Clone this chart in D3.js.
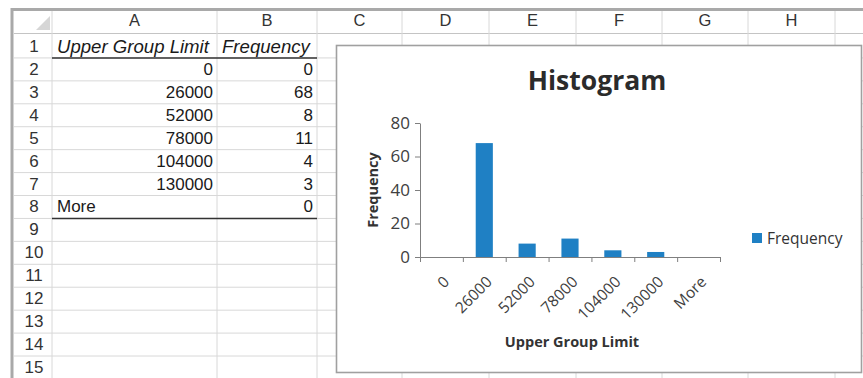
<!DOCTYPE html>
<html><head><meta charset="utf-8">
<script src="https://cdn.jsdelivr.net/npm/d3@7"></script>
<style>body{margin:0;background:#fff}svg{display:block}</style>
</head><body>
<svg id="c" width="863" height="378"></svg>
<script>
// ---- data ----
const categories = ["0","26000","52000","78000","104000","130000","More"];
const frequencies = [0,68,8,11,4,3,0];
const yTicks = [0,20,40,60,80];
const columnLetters = ["A","B","C","D","E","F","G","H"];
const rowNumbers = [1,2,3,4,5,6,7,8,9,10,11,12,13,14,15];
const tableHeaders = ["Upper Group Limit","Frequency"];
const chartTitle = "Histogram";
const xTitle = "Upper Group Limit";
const yTitle = "Frequency";
const legendLabel = "Frequency";

// ---- layout ----
const W = 863, H = 378;
const colEdges = [14,52,217,317,402,489,576,662,748,835,863];
const headerTop = 11, row1Top = 34, rowH = 22.93;
const rowTop = n => 35 + (n-1)*rowH;
const rowMid = n => rowTop(n) + rowH/2;
const cellFont = "'Liberation Sans', Arial, sans-serif";
const chartFont = "'Open Sans', 'Noto Sans', sans-serif";

const svg = d3.select("#c");
svg.append("rect").attr("width",W).attr("height",H).attr("fill","#fff");

// grid lines
const grid = svg.append("g");
grid.selectAll("line.h").data(rowNumbers).join("line")
  .attr("x1",colEdges[0]).attr("x2",W)
  .attr("y1",d=>rowTop(d)+rowH).attr("y2",d=>rowTop(d)+rowH)
  .attr("stroke","#d8d8d8").attr("stroke-width",1);
grid.append("line").attr("x1",colEdges[0]).attr("x2",W).attr("y1",row1Top-0.5).attr("y2",row1Top-0.5)
  .attr("stroke","#c4c4c4").attr("stroke-width",1.2);
grid.selectAll("line.v").data(colEdges.slice(1,-1)).join("line")
  .attr("x1",d=>d).attr("x2",d=>d).attr("y1",headerTop).attr("y2",H)
  .attr("stroke","#d8d8d8").attr("stroke-width",1);

// select-all triangle
svg.append("path").attr("d","M50,16 L50,30 L36,30 Z").attr("fill","#d6d6d6");

// column letters
svg.selectAll("text.col").data(columnLetters).join("text")
  .attr("x",(d,i)=>(colEdges[i+1]+colEdges[i+2])/2).attr("y",20)
  .attr("text-anchor","middle").attr("dominant-baseline","central")
  .attr("font-family",cellFont).attr("font-size",16.5).attr("fill","#333").text(d=>d);

// row numbers
svg.selectAll("text.row").data(rowNumbers).join("text")
  .attr("x",(colEdges[0]+colEdges[1])/2+1).attr("y",d=>rowMid(d))
  .attr("text-anchor","middle").attr("dominant-baseline","central")
  .attr("font-family",cellFont).attr("font-size",17).attr("fill","#333").text(d=>d);

// header cells
svg.append("text").attr("x",colEdges[1]+5).attr("y",rowMid(1)).attr("dominant-baseline","central")
  .attr("font-family",cellFont).attr("font-size",18.6).attr("font-style","italic").attr("fill","#1a1a1a").text(tableHeaders[0]);
svg.append("text").attr("x",colEdges[2]+5).attr("y",rowMid(1)).attr("dominant-baseline","central")
  .attr("font-family",cellFont).attr("font-size",18.6).attr("font-style","italic").attr("fill","#1a1a1a").text(tableHeaders[1]);

// data cells
const isNum = s => !isNaN(+s);
svg.selectAll("text.a").data(categories).join("text")
  .attr("x",d=>isNum(d)?colEdges[2]-4:colEdges[1]+5).attr("y",(d,i)=>rowMid(i+2))
  .attr("text-anchor",d=>isNum(d)?"end":"start").attr("dominant-baseline","central")
  .attr("font-family",cellFont).attr("font-size",17).attr("fill","#1a1a1a").text(d=>d);
svg.selectAll("text.b").data(frequencies).join("text")
  .attr("x",colEdges[3]-4).attr("y",(d,i)=>rowMid(i+2))
  .attr("text-anchor","end").attr("dominant-baseline","central")
  .attr("font-family",cellFont).attr("font-size",17).attr("fill","#1a1a1a").text(d=>d);

// underlines
[rowTop(2), rowTop(categories.length+2)].forEach(yy=>{
  svg.append("line").attr("x1",colEdges[1]).attr("x2",colEdges[3]).attr("y1",yy).attr("y2",yy)
    .attr("stroke","#333").attr("stroke-width",1.6);
});

// outer frame
svg.append("line").attr("x1",11).attr("x2",W).attr("y1",9.5).attr("y2",9.5).attr("stroke","#a9a9a9").attr("stroke-width",3);
svg.append("line").attr("x1",12).attr("x2",12).attr("y1",8).attr("y2",H).attr("stroke","#a9a9a9").attr("stroke-width",3);

// ---- chart ----
const box = {x:336.5, y:45.5, w:525, h:327};
svg.append("rect").attr("x",box.x).attr("y",box.y).attr("width",box.w).attr("height",box.h)
  .attr("fill","#fff").attr("stroke","#a0a0a0").attr("stroke-width",1.6);

const x = d3.scaleBand().domain(categories).range([420,720]).paddingInner(0.6).paddingOuter(0.3);
const y = d3.scaleLinear().domain([0,80]).range([257,123]);
const axisColor = "#7f7f7f";

svg.append("text").attr("x",597).attr("y",80).attr("text-anchor","middle").attr("dominant-baseline","central")
  .attr("font-family",chartFont).attr("font-weight",700).attr("font-size",26.5).attr("fill","#2b2b2b").text(chartTitle);

// bars
svg.selectAll("rect.bar").data(frequencies).join("rect").attr("class","bar")
  .attr("x",(d,i)=>x(categories[i])).attr("width",x.bandwidth())
  .attr("y",d=>y(d)).attr("height",d=>y(0)-y(d)).attr("fill","#1f80c4");

// y axis
const ya = svg.append("g").attr("transform","translate(420,0)")
  .call(d3.axisLeft(y).tickValues(yTicks).tickSize(5).tickSizeOuter(0).tickPadding(5));
ya.select(".domain").attr("stroke",axisColor);
ya.selectAll(".tick line").attr("stroke",axisColor);
ya.selectAll(".tick text").attr("font-family",chartFont).attr("font-size",17).attr("fill","#404040");

// x axis boundary ticks
const xb = d3.scaleLinear().domain([0,categories.length]).range(x.range());
const xa = svg.append("g").attr("transform","translate(0,257)")
  .call(d3.axisBottom(xb).tickValues(d3.range(categories.length+1)).tickSize(5).tickSizeOuter(0).tickFormat(""));
xa.select(".domain").attr("stroke",axisColor);
xa.selectAll(".tick line").attr("stroke",axisColor);

// x labels
const xl = svg.append("g").attr("transform","translate(0,257)")
  .call(d3.axisBottom(x).tickSize(0).tickSizeOuter(0));
xl.select(".domain").remove();
xl.selectAll(".tick text").attr("y",0).attr("dy","0.35em")
  .attr("transform","translate(5,22) rotate(-45)").attr("text-anchor","end")
  .attr("font-family",chartFont).attr("font-size",15.5).attr("fill","#404040");

// axis titles
svg.append("text").attr("x",572).attr("y",341).attr("text-anchor","middle").attr("dominant-baseline","central")
  .attr("font-family",chartFont).attr("font-weight",700).attr("font-size",14.5).attr("fill","#333").text(xTitle);
svg.append("text").attr("transform","translate(372,190) rotate(-90)").attr("text-anchor","middle").attr("dominant-baseline","central")
  .attr("font-family",chartFont).attr("font-weight",700).attr("font-size",14.5).attr("fill","#333").text(yTitle);

// legend
svg.append("rect").attr("x",752).attr("y",233).attr("width",10).attr("height",10).attr("fill","#1f80c4");
svg.append("text").attr("x",767).attr("y",238).attr("dominant-baseline","central")
  .attr("font-family",chartFont).attr("font-size",15.5).attr("fill","#333").text(legendLabel);
</script>
</body></html>
